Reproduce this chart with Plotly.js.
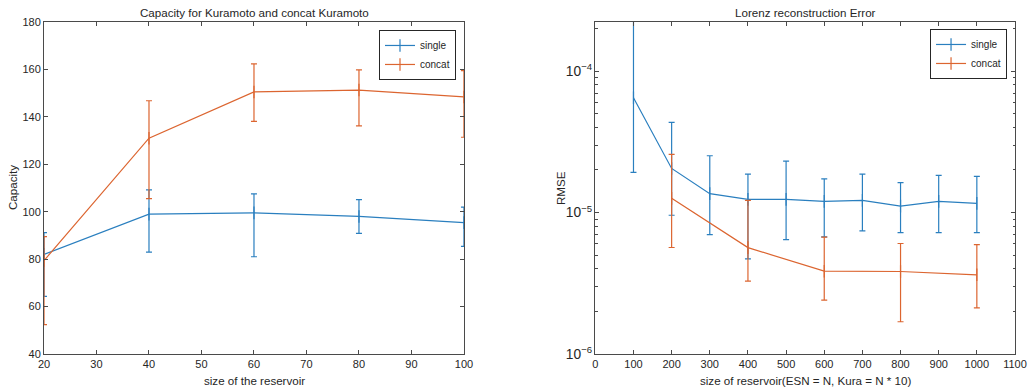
<!DOCTYPE html>
<html>
<head>
<meta charset="utf-8">
<script src="https://cdn.plot.ly/plotly-3.0.1.min.js"></script>
<style>html,body{margin:0;padding:0;background:#fff;}#chart{width:1028px;height:392px;}</style>
</head>
<body>
<div id="chart"></div>
<script>
// ---- Left chart: Capacity ----
var capSizes = [20, 40, 60, 80, 100];
var capSingle = [82, 99, 99.5, 98, 95.4];
var capSingleUpper = [91.2, 109.2, 107.5, 105.1, 101.9];
var capSingleLower = [64.3, 83, 81, 90.9, 85.4];
var capConcat = [79.4, 131, 150.5, 151.3, 148.4];
var capConcatUpper = [89.5, 146.8, 162.3, 159.8, 159.5];
var capConcatLower = [52.4, 105.5, 138.1, 136.2, 131.4];

// ---- Right chart: Lorenz RMSE ----
var rmseSizesSingle = [100, 200, 300, 400, 500, 600, 700, 800, 900, 1000];
var rmseSingle = [6.47e-5, 2.05e-5, 1.36e-5, 1.24e-5, 1.24e-5, 1.2e-5, 1.22e-5, 1.11e-5, 1.2e-5, 1.16e-5];
var rmseSingleUpper = [3.0e-4, 4.34e-5, 2.52e-5, 1.87e-5, 2.31e-5, 1.73e-5, 1.87e-5, 1.63e-5, 1.83e-5, 1.8e-5];
var rmseSingleLower = [1.92e-5, 9.57e-6, 6.98e-6, 4.70e-6, 6.44e-6, 6.72e-6, 7.41e-6, 7.21e-6, 7.21e-6, 7.2e-6];
var rmseSizesConcat = [200, 400, 600, 800, 1000];
var rmseConcat = [1.26e-5, 5.65e-6, 3.85e-6, 3.83e-6, 3.63e-6];
var rmseConcatUpper = [2.58e-5, 1.22e-5, 6.7e-6, 6.04e-6, 5.94e-6];
var rmseConcatLower = [5.66e-6, 3.27e-6, 2.4e-6, 1.69e-6, 2.12e-6];

var BLUE = '#2a7fbf';
var ORANGE = '#dc6530';
var FONT = 'Liberation Sans, Arial, sans-serif';

function diff(a, b) { return a.map(function (v, i) { return v - b[i]; }); }

function series(x, y, up, lo, color, name, xa, ya, legend) {
  return {
    type: 'scatter', mode: 'lines+markers', x: x, y: y, name: name,
    xaxis: xa, yaxis: ya, legend: legend,
    line: {color: color, width: 1.2},
    marker: {symbol: 'line-ns-open', size: 9, color: color, line: {color: color, width: 1.2}},
    error_y: {type: 'data', symmetric: false, array: diff(up, y), arrayminus: diff(y, lo),
              color: color, thickness: 1.2, width: 3}
  };
}

var data = [
  series(capSizes, capSingle, capSingleUpper, capSingleLower, BLUE, 'single', 'x', 'y', 'legend'),
  series(capSizes, capConcat, capConcatUpper, capConcatLower, ORANGE, 'concat', 'x', 'y', 'legend'),
  series(rmseSizesSingle, rmseSingle, rmseSingleUpper, rmseSingleLower, BLUE, 'single', 'x2', 'y2', 'legend2'),
  series(rmseSizesConcat, rmseConcat, rmseConcatUpper, rmseConcatLower, ORANGE, 'concat', 'x2', 'y2', 'legend2')
];

var axCommon = {
  showline: true, linecolor: '#4a4a4a', linewidth: 1, mirror: 'ticks',
  ticks: 'inside', ticklen: 4, tickcolor: '#4a4a4a', tickwidth: 1,
  showgrid: false, zeroline: false,
  tickfont: {family: FONT, size: 11, color: '#262626'}
};
function ax(extra) { return Object.assign({}, axCommon, extra); }

var legendCommon = {
  font: {family: FONT, size: 10, color: '#262626'},
  bgcolor: '#ffffff', bordercolor: '#262626', borderwidth: 1,
  xanchor: 'right', yanchor: 'top', itemwidth: 30, tracegroupgap: 0
};

var TF = {family: FONT, size: 11.6, color: '#262626'};

var layout = {
  width: 1028, height: 392,
  margin: {l: 44, r: 13, t: 22, b: 38},
  paper_bgcolor: '#ffffff', plot_bgcolor: '#ffffff',
  showlegend: true,
  xaxis: ax({domain: [0, 0.4325], range: [20, 100], tick0: 20, dtick: 10, anchor: 'y'}),
  yaxis: ax({domain: [0, 1], range: [40, 180], tick0: 40, dtick: 20, anchor: 'x'}),
  xaxis2: ax({domain: [0.5678, 1], range: [0, 1100], tick0: 0, dtick: 100, anchor: 'y2'}),
  yaxis2: ax({domain: [0, 1], type: 'log', range: [-6, -3.653], tick0: 0, dtick: 1,
              exponentformat: 'power', anchor: 'x2',
              minor: {ticks: 'inside', ticklen: 2.5, tickcolor: '#4a4a4a', dtick: 'D1', showgrid: false}}),
  legend: Object.assign({}, legendCommon, {x: 0.4243, y: 0.976}),
  legend2: Object.assign({}, legendCommon, {x: 0.9918, y: 0.979}),
  annotations: [
    {text: 'Capacity for Kuramoto and concat Kuramoto', xref: 'paper', yref: 'paper',
     x: (254 - 44) / 971, y: (354 - 12) / 332, yanchor: 'middle', xanchor: 'center', showarrow: false, font: TF},
    {text: 'Lorenz reconstruction Error', xref: 'paper', yref: 'paper',
     x: (805 - 44) / 971, y: (354 - 12) / 332, yanchor: 'middle', xanchor: 'center', showarrow: false, font: TF},
    {text: 'size of the reservoir', xref: 'paper', yref: 'paper',
     x: (254 - 44) / 971, y: (354 - 380) / 332, yanchor: 'middle', xanchor: 'center', showarrow: false, font: TF},
    {text: 'size of reservoir(ESN = N, Kura = N * 10)', xref: 'paper', yref: 'paper',
     x: (805 - 44) / 971, y: (354 - 380) / 332, yanchor: 'middle', xanchor: 'center', showarrow: false, font: TF},
    {text: 'Capacity', xref: 'paper', yref: 'paper', textangle: -90,
     x: (12 - 44) / 971, y: 0.5, yanchor: 'middle', xanchor: 'center', showarrow: false, font: TF},
    {text: 'RMSE', xref: 'paper', yref: 'paper', textangle: -90,
     x: (560 - 44) / 971, y: 0.5, yanchor: 'middle', xanchor: 'center', showarrow: false, font: TF}
  ]
};

Plotly.newPlot('chart', data, layout, {staticPlot: true, displayModeBar: false});
</script>
</body>
</html>
